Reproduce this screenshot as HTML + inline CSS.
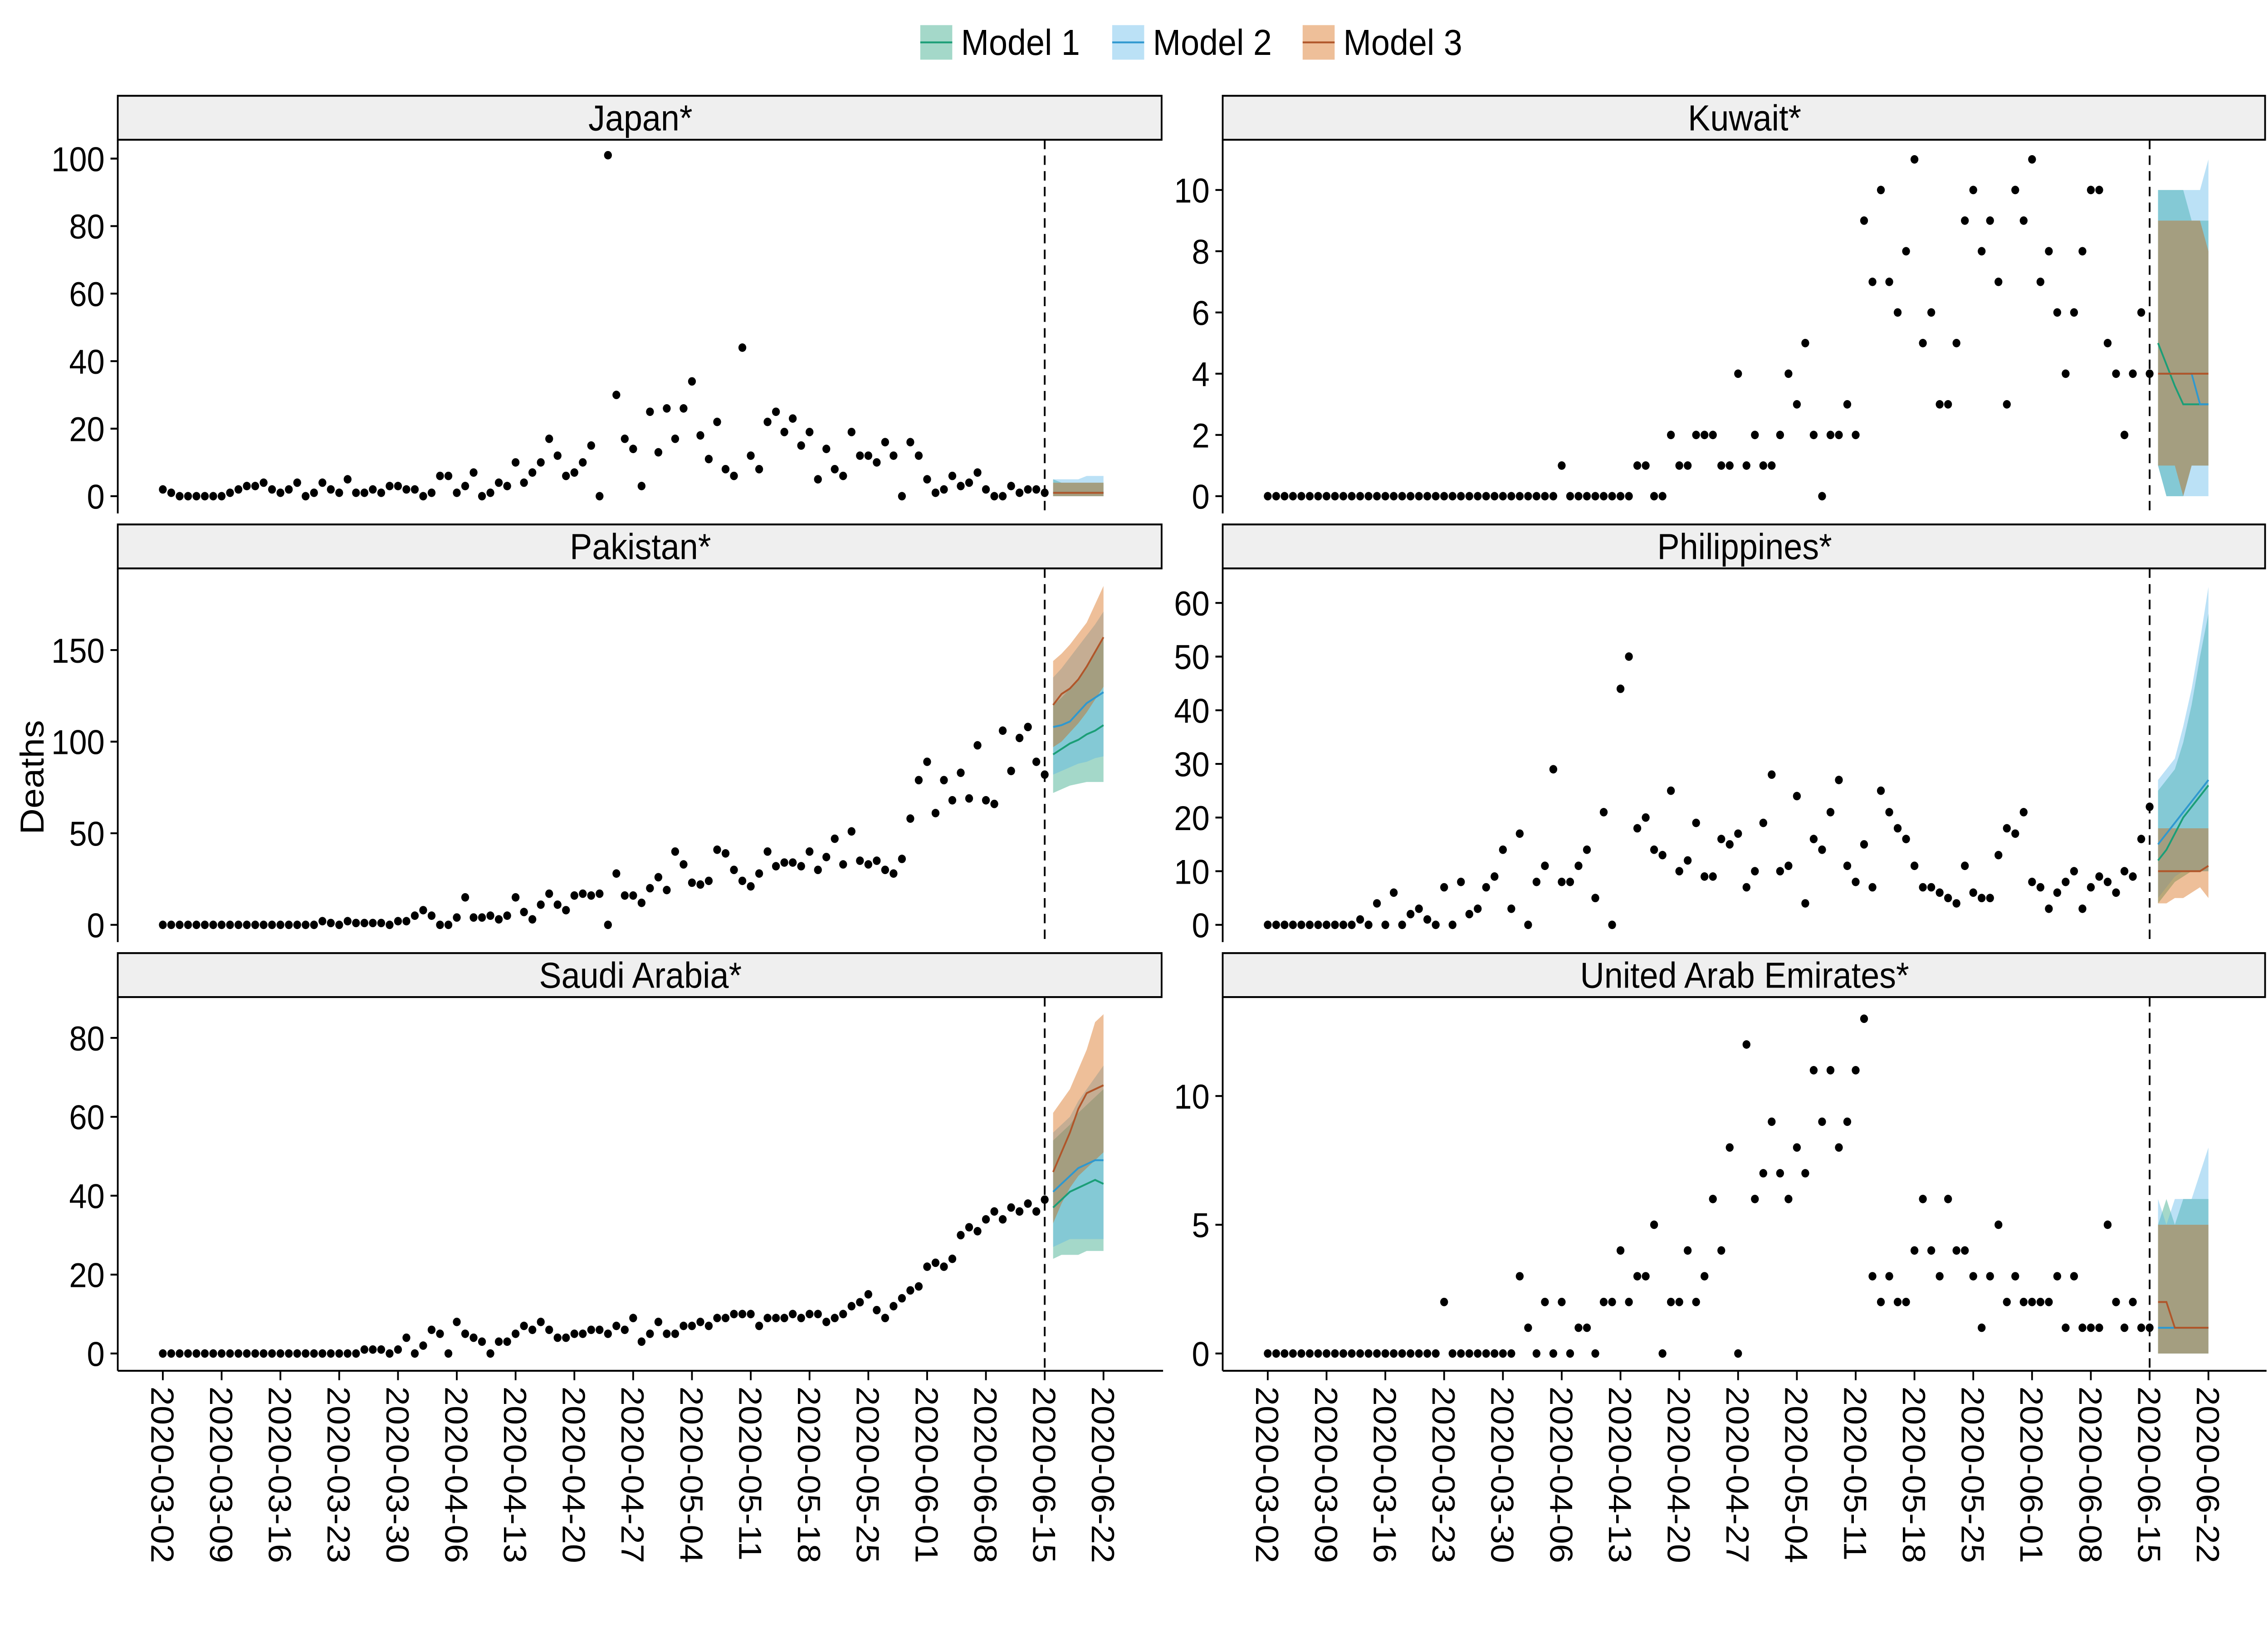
<!DOCTYPE html>
<html><head><meta charset="utf-8">
<style>
html,body{margin:0;padding:0;background:#fff;overflow:hidden;width:100%;height:100%;}
svg{display:block;width:100vw;height:100vh;}
text{font-family:"Liberation Sans",Arial,sans-serif;fill:#000;}
</style></head>
<body>
<svg id="chart" viewBox="0 0 1560 1040" preserveAspectRatio="none" xmlns="http://www.w3.org/2000/svg" overflow="hidden">
<g id="legend"></g>
<g id="panels"></g>
<text x="0" y="0" font-size="23" text-anchor="middle" transform="translate(30,495) rotate(-90)">Deaths</text>
</svg>
<script>
const weekLabels = ["2020-03-02","2020-03-09","2020-03-16","2020-03-23","2020-03-30","2020-04-06","2020-04-13","2020-04-20","2020-04-27","2020-05-04","2020-05-11","2020-05-18","2020-05-25","2020-06-01","2020-06-08","2020-06-15","2020-06-22"];
const modelNames = ["Model 1","Model 2","Model 3"];
const forecastDays = [106,107,108,109,110,111,112];
const cutoffDay = 105;

const japanObs = [2,1,0,0,0,0,0,0,1,2, 3,3,4,2,1,2,4,0,1,4, 2,1,5,1,1,2,1,3,3,2, 2,0,1,6,6,1,3,7,0,1, 4,3,10,4,7,10,17,12,6,7, 10,15,0,101,30,17,14,3,25,13, 26,17,26,34,18,11,22,8,6,44, 12,8,22,25,19,23,15,19,5,14, 8,6,19,12,12,10,16,12,0,16, 12,5,1,2,6,3,4,7,2,0, 0,3,1,2,2,1];
const kuwaitObs = [0,0,0,0,0,0,0,0,0,0, 0,0,0,0,0,0,0,0,0,0, 0,0,0,0,0,0,0,0,0,0, 0,0,0,0,0,1,0,0,0,0, 0,0,0,0,1,1,0,0,2,1, 1,2,2,2,1,1,4,1,2,1, 1,2,4,3,5,2,0,2,2,3, 2,9,7,10,7,6,8,11,5,6, 3,3,5,9,10,8,9,7,3,10, 9,11,7,8,6,4,6,8,10,10, 5,4,2,4,6,4];
const pakistanObs = [0,0,0,0,0,0,0,0,0,0, 0,0,0,0,0,0,0,0,0,2, 1,0,2,1,1,1,1,0,2,2, 5,8,5,0,0,4,15,4,4,5, 3,5,15,7,3,11,17,11,8,16, 17,16,17,0,28,16,16,12,20,26, 19,40,33,23,22,24,41,39,30,24, 21,28,40,32,34,34,32,40,30,37, 47,33,51,35,33,35,30,28,36,58, 79,89,61,79,68,83,69,98,68,66, 106,84,102,108,89,82];
const philippinesObs = [0,0,0,0,0,0,0,0,0,0, 0,1,0,4,0,6,0,2,3,1, 0,7,0,8,2,3,7,9,14,3, 17,0,8,11,29,8,8,11,14,5, 21,0,44,50,18,20,14,13,25,10, 12,19,9,9,16,15,17,7,10,19, 28,10,11,24,4,16,14,21,27,11, 8,15,7,25,21,18,16,11,7,7, 6,5,4,11,6,5,5,13,18,17, 21,8,7,3,6,8,10,3,7,9, 8,6,10,9,16,22];
const saudiObs = [0,0,0,0,0,0,0,0,0,0, 0,0,0,0,0,0,0,0,0,0, 0,0,0,0,1,1,1,0,1,4, 0,2,6,5,0,8,5,4,3,0, 3,3,5,7,6,8,6,4,4,5, 5,6,6,5,7,6,9,3,5,8, 5,5,7,7,8,7,9,9,10,10, 10,7,9,9,9,10,9,10,10,8, 9,10,12,13,15,11,9,12,14,16, 17,22,23,22,24,30,32,31,34,36, 34,37,36,38,36,39];
const uaeObs = [0,0,0,0,0,0,0,0,0,0, 0,0,0,0,0,0,0,0,0,0, 0,2,0,0,0,0,0,0,0,0, 3,1,0,2,0,2,0,1,1,0, 2,2,4,2,3,3,5,0,2,2, 4,2,3,6,4,8,0,12,6,7, 9,7,6,8,7,11,9,11,8,9, 11,13,3,2,3,2,2,4,6,4, 3,6,4,4,3,1,3,5,2,3, 2,2,2,2,3,1,3,1,1,1, 5,2,1,2,1,1];

const japanM1Lo=[0,0,0,0,0,0,0], japanM1Hi=[5,4,4,4,4,4,4], japanM1Mid=[1,1,1,1,1,1,1];
const japanM2Lo=[0,0,0,0,0,0,0], japanM2Hi=[5,5,5,5,6,6,6], japanM2Mid=[1,1,1,1,1,1,1];
const japanM3Lo=[0,0,0,0,0,0,0], japanM3Hi=[4,4,4,4,4,4,4], japanM3Mid=[1,1,1,1,1,1,1];

const kuwaitM1Lo=[1,0,0,0,1,1,1], kuwaitM1Hi=[10,10,10,10,9,9,9], kuwaitM1Mid=[5,4.3,3.6,3,3,3,3];
const kuwaitM2Lo=[1,0,0,0,0,0,0], kuwaitM2Hi=[10,10,10,10,10,10,11], kuwaitM2Mid=[4,4,4,4,4,3,3];
const kuwaitM3Lo=[1,1,1,0,1,1,1], kuwaitM3Hi=[9,9,9,9,9,9,8], kuwaitM3Mid=[4,4,4,4,4,4,4];

const pakistanM1Lo=[72,74,76,77,78,78,78], pakistanM1Hi=[120,124,129,134,141,149,157], pakistanM1Mid=[93,96,99,101,104,106,109];
const pakistanM2Lo=[82,84,86,88,89,91,92], pakistanM2Hi=[135,140,146,152,158,164,171], pakistanM2Mid=[108,109,111,116,121,124,127];
const pakistanM3Lo=[97,100,105,110,116,123,130], pakistanM3Hi=[144,148,153,159,165,175,185], pakistanM3Mid=[120,126,129,134,141,149,157];

const philippinesM1Lo=[4,6,8,9,10,10,10], philippinesM1Hi=[25,27,29,34,41,50,58], philippinesM1Mid=[12,14,17,20,22,24,26];
const philippinesM2Lo=[5,7,9,10,10,10,10], philippinesM2Hi=[27,29,31,37,44,53,63], philippinesM2Mid=[15,17,19,21,23,25,27];
const philippinesM3Lo=[4,4,5,5,6,7,5], philippinesM3Hi=[18,18,18,18,18,18,18], philippinesM3Mid=[10,10,10,10,10,10,11];

const saudiM1Lo=[24,25,25,25,26,26,26], saudiM1Hi=[54,56,58,61,63,65,67], saudiM1Mid=[37,39,41,42,43,44,43];
const saudiM2Lo=[27,28,29,29,29,29,29], saudiM2Hi=[56,58,60,64,67,70,73], saudiM2Mid=[41,43,45,47,48,49,49];
const saudiM3Lo=[33,38,42,45,47,49,51], saudiM3Hi=[61,64,67,72,77,84,86], saudiM3Mid=[46,51,56,62,66,67,68];

const uaeM1Lo=[0,0,0,0,0,0,0], uaeM1Hi=[5,6,5,6,6,6,6], uaeM1Mid=[1,1,1,1,1,1,1];
const uaeM2Lo=[0,0,0,0,0,0,0], uaeM2Hi=[6,5,6,6,6,7,8], uaeM2Mid=[1,1,1,1,1,1,1];
const uaeM3Lo=[0,0,0,0,0,0,0], uaeM3Hi=[5,5,5,5,5,5,5], uaeM3Mid=[2,2,1,1,1,1,1];

const japanTicks=[0,20,40,60,80,100];
const kuwaitTicks=[0,2,4,6,8,10];
const pakistanTicks=[0,50,100,150];
const philippinesTicks=[0,10,20,30,40,50,60];
const saudiTicks=[0,20,40,60,80];
const uaeTicks=[0,5,10];

const NS="http://www.w3.org/2000/svg";
const fillCols=["rgba(27,158,119,0.4)","rgba(86,180,233,0.4)","rgba(213,94,0,0.4)"];
const lineCols=["#1b9e77","#2f98cf","#b0562a"];
function mk(tag,attrs,parent){const e=document.createElementNS(NS,tag);for(const k in attrs)e.setAttribute(k,attrs[k]);parent.appendChild(e);return e;}

const panels=[
 {key:"japan",title:"Japan*",col:0,row:0,obs:japanObs,ticks:japanTicks,ymax:100,y0:316,ytop:101,
  m:[[japanM1Lo,japanM1Hi,japanM1Mid],[japanM2Lo,japanM2Hi,japanM2Mid],[japanM3Lo,japanM3Hi,japanM3Mid]]},
 {key:"kuwait",title:"Kuwait*",col:1,row:0,obs:kuwaitObs,ticks:kuwaitTicks,ymax:10,y0:316,ytop:121,
  m:[[kuwaitM1Lo,kuwaitM1Hi,kuwaitM1Mid],[kuwaitM2Lo,kuwaitM2Hi,kuwaitM2Mid],[kuwaitM3Lo,kuwaitM3Hi,kuwaitM3Mid]]},
 {key:"pakistan",title:"Pakistan*",col:0,row:1,obs:pakistanObs,ticks:pakistanTicks,ymax:150,y0:589,ytop:414,
  m:[[pakistanM1Lo,pakistanM1Hi,pakistanM1Mid],[pakistanM2Lo,pakistanM2Hi,pakistanM2Mid],[pakistanM3Lo,pakistanM3Hi,pakistanM3Mid]]},
 {key:"philippines",title:"Philippines*",col:1,row:1,obs:philippinesObs,ticks:philippinesTicks,ymax:60,y0:589,ytop:384,
  m:[[philippinesM1Lo,philippinesM1Hi,philippinesM1Mid],[philippinesM2Lo,philippinesM2Hi,philippinesM2Mid],[philippinesM3Lo,philippinesM3Hi,philippinesM3Mid]]},
 {key:"saudi-arabia",title:"Saudi Arabia*",col:0,row:2,obs:saudiObs,ticks:saudiTicks,ymax:80,y0:862,ytop:661,
  m:[[saudiM1Lo,saudiM1Hi,saudiM1Mid],[saudiM2Lo,saudiM2Hi,saudiM2Mid],[saudiM3Lo,saudiM3Hi,saudiM3Mid]]},
 {key:"uae",title:"United Arab Emirates*",col:1,row:2,obs:uaeObs,ticks:uaeTicks,ymax:10,y0:862,ytop:698,
  m:[[uaeM1Lo,uaeM1Hi,uaeM1Mid],[uaeM2Lo,uaeM2Hi,uaeM2Mid],[uaeM3Lo,uaeM3Hi,uaeM3Mid]]}
];

const root=document.getElementById("panels");
panels.forEach(p=>{
  const left=p.col===0?81:841, right=p.col===0?800:1559;
  const stripTop=61+p.row*273, plotTop=stripTop+28, plotBot=plotTop+238;
  const x0=left+31, pxDay=5.777;
  const xs=d=>x0+d*pxDay;
  const ys=v=>p.y0-(v/p.ymax)*(p.y0-p.ytop);
  const g=mk("g",{},root);
  
  
  const strip=mk("rect",{x:left,y:stripTop,width:right-left-1,height:28,fill:"#efefef",stroke:"#000","stroke-width":1.2},g);
  
  
  const st=mk("text",{x:(left+right)/2,y:stripTop+22,"font-size":23,"text-anchor":"middle"},g);
  st.textContent=p.title;
  
  
  const ya=mk("line",{x1:left,x2:left,y1:plotTop,y2:plotBot,stroke:"#000","stroke-width":1.2},g);
  
  
  p.ticks.forEach(t=>{
    const y=ys(t);
    mk("line",{x1:left-5,x2:left,y1:y,y2:y,stroke:"#000","stroke-width":1.2},g);
    const tl=mk("text",{x:left-9,y:y+8,"font-size":22,"text-anchor":"end"},g);
    tl.textContent=String(t);
    
    
  });
  if(p.row===2){
    const xa=mk("line",{x1:left,x2:right,y1:plotBot,y2:plotBot,stroke:"#000","stroke-width":1.2},g);
    
    
    weekLabels.forEach((lab,i)=>{
      const x=xs(i*7);
      mk("line",{x1:x,x2:x,y1:plotBot,y2:plotBot+6,stroke:"#000","stroke-width":1.2},g);
      const tl=mk("text",{x:0,y:0,"font-size":22,"text-anchor":"start",transform:`translate(${x-8},${plotBot+10}) rotate(90)`},g);
      tl.textContent=lab;
      
      
    });
  }
  p.m.forEach((mm,mi)=>{
    const [lo,hi]=mm;
    let d="";
    forecastDays.forEach((fd,i)=>{d+=(i?"L":"M")+xs(fd).toFixed(2)+","+ys(hi[i]).toFixed(2);});
    for(let i=forecastDays.length-1;i>=0;i--){d+="L"+xs(forecastDays[i]).toFixed(2)+","+ys(lo[i]).toFixed(2);}
    const r=mk("path",{d:d+"Z",fill:fillCols[mi],stroke:"none"},g);
    
    
  });
  p.m.forEach((mm,mi)=>{
    const mid=mm[2];
    const pts=forecastDays.map((fd,i)=>xs(fd).toFixed(2)+","+ys(mid[i]).toFixed(2)).join(" ");
    const l=mk("polyline",{points:pts,fill:"none",stroke:lineCols[mi],"stroke-width":1.2},g);
    
    
  });
  const cx=xs(cutoffDay);
  const cl=mk("line",{x1:cx,x2:cx,y1:plotTop,y2:plotBot,stroke:"#000","stroke-width":1.2,"stroke-dasharray":"6,4"},g);
  
  
  p.obs.forEach((v,i)=>{
    const c=mk("circle",{cx:xs(i),cy:ys(v),r:2.7,fill:"#000"},g);
    
    
  });
});

const lg=document.getElementById("legend");
const legX=[633,765,896];
modelNames.forEach((nm,i)=>{
  const g=mk("g",{},lg);
  
  
  mk("rect",{x:legX[i],y:16,width:22,height:22,fill:fillCols[i]},g);
  mk("line",{x1:legX[i],x2:legX[i]+22,y1:27,y2:27,stroke:lineCols[i],"stroke-width":1.2},g);
  const t=mk("text",{x:legX[i]+28,y:35,"font-size":23},g);
  t.textContent=nm;
  
  
});
</script>
</body></html>
